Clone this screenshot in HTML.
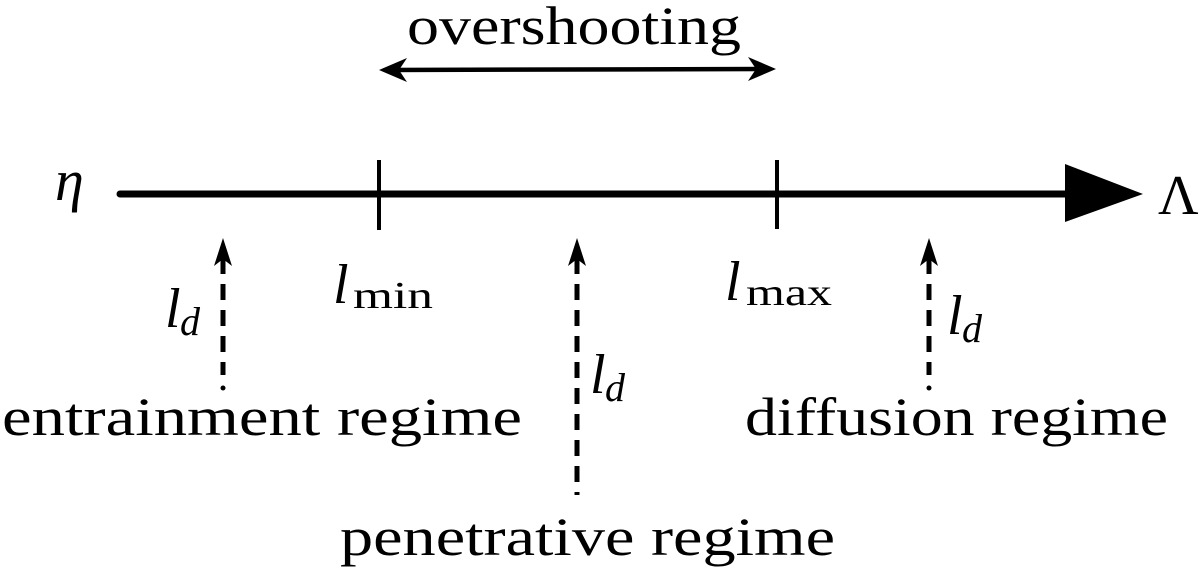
<!DOCTYPE html>
<html><head><meta charset="utf-8"><style>
html,body{margin:0;padding:0;background:#fff;}
svg{display:block;}
text{font-family:"Liberation Serif",serif;fill:#000;}
.it{font-style:italic;}
</style></head><body>
<svg width="1200" height="573" viewBox="0 0 1200 573" xmlns="http://www.w3.org/2000/svg">
<line x1="120" y1="194" x2="1070" y2="194" stroke="#000" stroke-width="7" stroke-linecap="round"/>
<polygon points="1065,164 1143,194 1065,222" fill="#000"/>
<line x1="379" y1="160" x2="379" y2="230" stroke="#000" stroke-width="4"/>
<line x1="777" y1="160" x2="777" y2="229" stroke="#000" stroke-width="4"/>
<line x1="386" y1="70" x2="770" y2="69" stroke="#000" stroke-width="4.5"/>
<polygon points="379,70 407,58 399,70 407,82" fill="#000"/>
<polygon points="776,69 748,57 756,69 748,81" fill="#000"/>
<text x="407" y="44" font-size="54" textLength="334" lengthAdjust="spacingAndGlyphs">overshooting</text>
<g stroke="#000" stroke-width="5">
<line x1="223" y1="258" x2="223" y2="375" stroke-dasharray="16,10"/>
<line x1="577" y1="258" x2="577" y2="495" stroke-dasharray="16,10"/>
<line x1="929" y1="258" x2="929" y2="375" stroke-dasharray="16,10"/>
</g>
<circle cx="223" cy="388" r="2.5" fill="#000"/>
<circle cx="929" cy="388" r="2.5" fill="#000"/>
<polygon points="223,238 214,266 223,259 232,266" fill="#000"/>
<polygon points="577,238 568,266 577,259 586,266" fill="#000"/>
<polygon points="929,238 920,266 929,259 938,266" fill="#000"/>
<text x="55" y="200" font-size="58" class="it">η</text>
<text x="1158" y="214" font-size="56">Λ</text>
<text x="333" y="303" font-size="56" class="it">l</text>
<text x="353" y="308" font-size="38" textLength="80" lengthAdjust="spacingAndGlyphs">min</text>
<text x="725" y="300" font-size="56" class="it">l</text>
<text x="746" y="305" font-size="38" textLength="86" lengthAdjust="spacingAndGlyphs">max</text>
<text x="165" y="327" font-size="56" class="it">l</text>
<text x="180" y="335" font-size="40" class="it">d</text>
<text x="590" y="393" font-size="56" class="it">l</text>
<text x="605" y="401" font-size="40" class="it">d</text>
<text x="947" y="334" font-size="56" class="it">l</text>
<text x="962" y="342" font-size="40" class="it">d</text>
<text x="2" y="435" font-size="54" textLength="520" lengthAdjust="spacingAndGlyphs">entrainment regime</text>
<text x="745" y="435" font-size="54" textLength="423" lengthAdjust="spacingAndGlyphs">diffusion regime</text>
<text x="340" y="555" font-size="54" textLength="495" lengthAdjust="spacingAndGlyphs">penetrative regime</text>
</svg>
</body></html>
